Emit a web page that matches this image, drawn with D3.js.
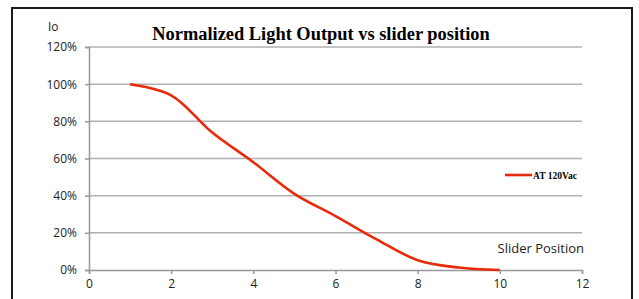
<!DOCTYPE html>
<html>
<head>
<meta charset="utf-8">
<title>Normalized Light Output vs slider position</title>
<script src="https://d3js.org/d3.v7.min.js"></script>
<style>
  body { margin: 0; background: #fff; }
  svg { display: block; }
</style>
</head>
<body>
<svg id="chart" width="639" height="299"></svg>
<script>
// values
const sliderPos = [1, 2, 3, 4, 5, 6, 7, 8, 9, 10];
const lightOut = [100, 94, 74, 58, 41, 29, 16.5, 5.3, 1.3, 0];
const xTicks = [0, 2, 4, 6, 8, 10, 12];
const yTicks = [0, 20, 40, 60, 80, 100, 120];
const seriesName = "AT 120Vac";

const svg = d3.select("#chart");

// outer frame
svg.append("rect")
  .attr("x", 12).attr("y", 8)
  .attr("width", 620).attr("height", 310)
  .attr("fill", "none").attr("stroke", "#1a1a1a").attr("stroke-width", 2);

const x = d3.scaleLinear().domain([0, 12]).range([89, 582]);
const y = d3.scaleLinear().domain([0, 120]).range([270, 47]);

// gridlines
svg.append("g")
  .selectAll("line")
  .data(yTicks.filter(d => d > 0))
  .join("line")
    .attr("x1", x(0)).attr("x2", x(12))
    .attr("y1", d => y(d)).attr("y2", d => y(d))
    .attr("stroke", "#b0b0b0").attr("stroke-width", 1.5);

// y axis
const yAxis = svg.append("g")
  .attr("transform", `translate(${x(0)},0)`)
  .call(d3.axisLeft(y).tickValues(yTicks).tickSize(4).tickPadding(8)
    .tickFormat(d => d + "%"));

// x axis
const xAxis = svg.append("g")
  .attr("transform", `translate(0,${y(0)})`)
  .call(d3.axisBottom(x).tickValues(xTicks).tickSize(4).tickPadding(5));

[yAxis, xAxis].forEach(a => {
  a.select(".domain").attr("stroke", "#999").attr("stroke-width", 1.5);
  a.selectAll(".tick line").attr("stroke", "#999").attr("stroke-width", 1.5);
  a.selectAll(".tick text")
    .attr("fill", "#222")
    .style("font-family", "'Open Sans', sans-serif")
    .style("font-size", "12px");
});

// the curve
const line = d3.line()
  .x((d, i) => x(sliderPos[i]))
  .y(d => y(d))
  .curve(d3.curveCatmullRom.alpha(0.5));

svg.append("path")
  .datum(lightOut)
  .attr("d", line)
  .attr("fill", "none")
  .attr("stroke", "#e62a0a")
  .attr("stroke-width", 2.6);

// title
svg.append("text")
  .attr("x", 321).attr("y", 40)
  .attr("text-anchor", "middle")
  .style("font-family", "'Liberation Serif', 'Times New Roman', serif")
  .style("font-weight", "bold")
  .style("font-size", "18.4px")
  .text("Normalized Light Output vs slider position");

// axis titles
svg.append("text")
  .attr("x", 48).attr("y", 31)
  .style("font-family", "'Open Sans', sans-serif")
  .style("font-size", "12px")
  .attr("fill", "#222")
  .text("Io");

svg.append("text")
  .attr("x", 584).attr("y", 253)
  .attr("text-anchor", "end")
  .style("font-family", "'Open Sans', sans-serif")
  .style("font-size", "13px")
  .attr("fill", "#222")
  .text("Slider Position");

// legend
const lg = svg.append("g").attr("transform", "translate(505,175)");
lg.append("line")
  .attr("x1", 0).attr("x2", 27)
  .attr("stroke", "#e62a0a").attr("stroke-width", 2.6);
lg.append("text")
  .attr("x", 28).attr("y", 3.5)
  .style("font-family", "'Liberation Serif', 'Times New Roman', serif")
  .style("font-weight", "bold")
  .style("font-size", "9.5px")
  .text(seriesName);
</script>
</body>
</html>
